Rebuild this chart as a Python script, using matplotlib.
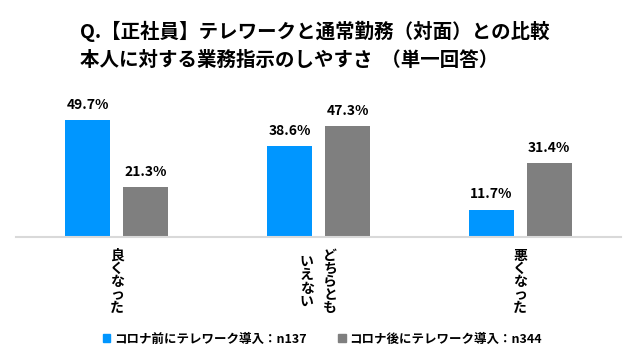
import matplotlib
matplotlib.use("Agg")
import matplotlib.pyplot as plt
from matplotlib.patches import Patch
from matplotlib.transforms import blended_transform_factory

plt.rcParams['font.family'] = ['Noto Sans CJK JP', 'DejaVu Sans']

# data
categories = ['良くなった', 'どちらとも\nいえない', '悪くなった']
before_vals = [49.7, 38.6, 11.7]
after_vals = [21.3, 47.3, 31.4]
series_names = ['コロナ前にテレワーク導入：n137', 'コロナ後にテレワーク導入：n344']

blue = '#0096ff'
gray = '#7f7f7f'

fig = plt.figure(figsize=(6.36, 3.61), dpi=100)
ax = fig.add_axes([16 / 636, 124 / 361, 605 / 636, 141 / 361])

x = list(range(len(categories)))
w = 0.223
off = 0.144
b1 = ax.bar([i - off for i in x], before_vals, width=w, color=blue)
b2 = ax.bar([i + off for i in x], after_vals, width=w, color=gray)

for bars in (b1, b2):
    for rect in bars:
        h = rect.get_height()
        ax.annotate(f'{h:.1f}%', (rect.get_x() + rect.get_width() / 2, h),
                    xytext=(0, 6), textcoords='offset points',
                    ha='center', va='bottom', fontsize=10, fontweight='bold')

ax.set_xlim(-0.5, 2.5)
ax.set_ylim(0, 60)
ax.set_xticks([])
ax.set_yticks([])
for s in ['top', 'left', 'right']:
    ax.spines[s].set_visible(False)
ax.spines['bottom'].set_color('#d9d9d9')
ax.spines['bottom'].set_linewidth(1.5)

# vertical (tategaki) category labels, columns right to left
trans = blended_transform_factory(ax.transData, ax.transAxes)
col_gap = 0.115
for i, cat in enumerate(categories):
    cols = cat.split('\n')
    n = len(cols)
    for j, col in enumerate(cols):
        xpos = i + (n - 1) / 2 * col_gap - j * col_gap
        ax.text(xpos, -0.319, '\n'.join(col), transform=trans,
                ha='center', va='center', fontsize=10, fontweight='bold',
                linespacing=0.92)

# title
fig.text(80 / 636, 1 - 31 / 361, 'Q.【正社員】テレワークと通常勤務（対面）との比較',
         fontsize=14, fontweight='bold', ha='left', va='center')
fig.text(80 / 636, 1 - 60 / 361, '本人に対する業務指示のしやすさ  （単一回答）',
         fontsize=14, fontweight='bold', ha='left', va='center')

handles = [Patch(color=blue), Patch(color=gray)]
fig.legend(handles, series_names, loc='center', bbox_to_anchor=(0.507, 22 / 361),
           ncol=2, frameon=False, prop={'size': 9, 'weight': 'bold'},
           handlelength=0.6, handleheight=0.6, handletextpad=0.3,
           columnspacing=2.5)

fig.savefig('out.png', dpi=100, facecolor='white')
